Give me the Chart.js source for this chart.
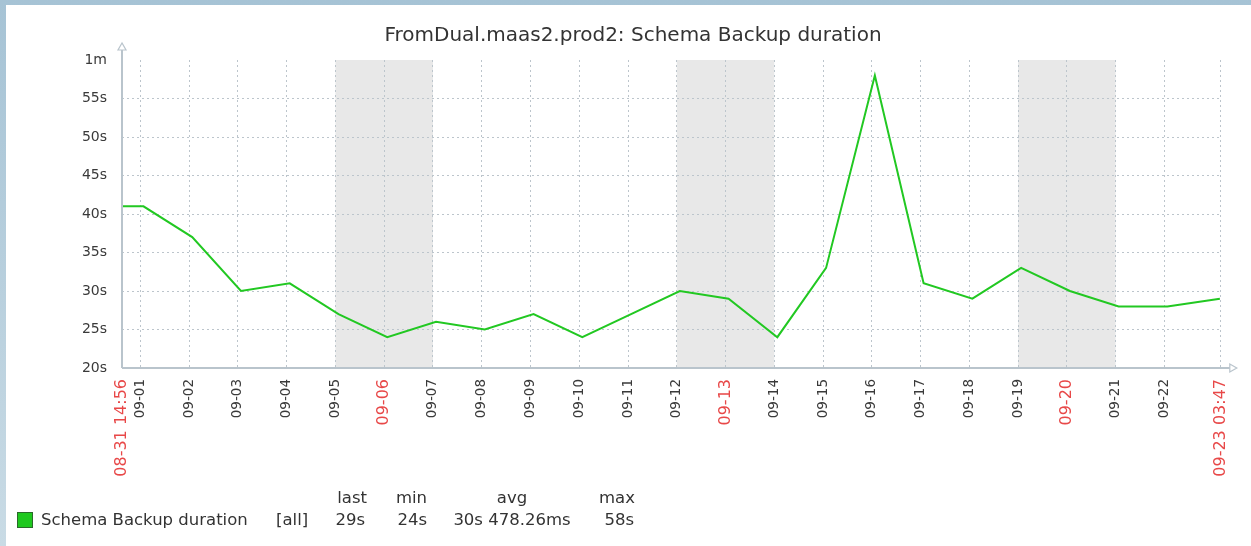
<!DOCTYPE html>
<html>
<head>
<meta charset="utf-8">
<script src="https://cdn.jsdelivr.net/npm/chart.js@4.4.0/dist/chart.umd.min.js"></script>
<style>
  html, body { margin: 0; padding: 0; }
  body {
    width: 1251px; height: 546px; overflow: hidden; position: relative;
    background: linear-gradient(180deg, #a6c3d5, #c9dbe5);
    font-family: "DejaVu Sans", sans-serif; color: #333;
  }
  #panel { position: absolute; left: 6px; top: 5px; right: 0; bottom: 0; background: #fff; }
  #chart { position: absolute; left: 0; top: 0; }
  .title { position: absolute; left: 0; top: 22px; width: 1266px; text-align: center; font-size: 20px; color: #333; }
  .lg { position: absolute; font-size: 16.5px; color: #333; white-space: nowrap; line-height: 20px; }
  .r { width: 120px; text-align: right; }
  .c { width: 160px; text-align: center; }
  .sw { position: absolute; left: 17px; top: 512px; width: 14px; height: 14px; background: #1fc81f; border: 1px solid #2a6a2a; }
</style>
</head>
<body>
<div id="panel"></div>
<canvas id="chart" width="1251" height="546"></canvas>
<div class="title">FromDual.maas2.prod2: Schema Backup duration</div>
<div class="sw"></div>
<div class="lg" style="left:41px;top:510px">Schema Backup duration</div>
<div class="lg" style="left:276px;top:510px">[all]</div>
<div class="lg r" style="left:247px;top:488px">last</div>
<div class="lg r" style="left:307px;top:488px">min</div>
<div class="lg c" style="left:432px;top:488px">avg</div>
<div class="lg r" style="left:515px;top:488px">max</div>
<div class="lg r" style="left:245px;top:510px">29s</div>
<div class="lg r" style="left:307px;top:510px">24s</div>
<div class="lg c" style="left:432px;top:510px">30s 478.26ms</div>
<div class="lg r" style="left:514px;top:510px">58s</div>
<script>
  // sample times ("MM-DD hh:mm") and backup duration in seconds
  const sampleTimes = [
    "08-31 01:30", "09-01 01:30", "09-02 01:30", "09-03 01:30", "09-04 01:30",
    "09-05 01:30", "09-06 01:30", "09-07 01:30", "09-08 01:30", "09-09 01:30",
    "09-10 01:30", "09-11 01:30", "09-12 01:30", "09-13 01:30", "09-14 01:30",
    "09-15 01:30", "09-16 01:30", "09-17 01:30", "09-18 01:30", "09-19 01:30",
    "09-20 01:30", "09-21 01:30", "09-22 01:30", "09-23 03:20"
  ];
  const durations = [41, 41, 37, 30, 31, 27, 24, 26, 25, 27, 24, 27, 30, 29, 24, 33, 58, 31, 29, 33, 30, 28, 28, 29];

  const rangeStart = "08-31 14:56";
  const rangeEnd = "09-23 03:47";
  const xTickLabels = [
    "08-31 14:56", "09-01", "09-02", "09-03", "09-04", "09-05", "09-06", "09-07",
    "09-08", "09-09", "09-10", "09-11", "09-12", "09-13", "09-14", "09-15", "09-16",
    "09-17", "09-18", "09-19", "09-20", "09-21", "09-22", "09-23 03:47"
  ];
  const redTickLabels = ["08-31 14:56", "09-06", "09-13", "09-20", "09-23 03:47"];
  const weekendStarts = ["09-05", "09-12", "09-19"];
  const weekendDays = 2;

  const yTickValues = [20, 25, 30, 35, 40, 45, 50, 55, 60];
  const yTickLabels = ["20s", "25s", "30s", "35s", "40s", "45s", "50s", "55s", "1m"];

  // hours since 08-31 00:00
  function toHours(s) {
    const [md, hm] = s.split(" ");
    const [mo, d] = md.split("-").map(Number);
    const [h, m] = (hm || "00:00").split(":").map(Number);
    return (Date.UTC(2020, mo - 1, d, h, m) - Date.UTC(2020, 7, 31)) / 3600000;
  }

  const GRID = "#bcc5cc";
  const AXIS = "#b9c4cc";
  const isRed = (i) => redTickLabels.includes(xTickLabels[i]);

  const shading = {
    id: "shading",
    beforeDraw(chart) {
      const { ctx, chartArea: a, scales: { x } } = chart;
      ctx.save();
      ctx.fillStyle = "#e8e8e8";
      weekendStarts.forEach((d) => {
        const h = toHours(d);
        const x0 = x.getPixelForValue(h);
        const x1 = x.getPixelForValue(h + weekendDays * 24);
        ctx.fillRect(x0, a.top, x1 - x0, a.bottom - a.top);
      });
      ctx.restore();
    },
  };

  const axes = {
    id: "axes",
    afterDraw(chart) {
      const { ctx, chartArea: a } = chart;
      ctx.save();
      ctx.strokeStyle = AXIS;
      ctx.lineWidth = 2;
      ctx.beginPath();
      ctx.moveTo(a.left, a.bottom);
      ctx.lineTo(a.left, a.top - 10);
      ctx.moveTo(a.left, a.bottom);
      ctx.lineTo(a.right + 9, a.bottom);
      ctx.stroke();
      ctx.lineWidth = 1.2;
      ctx.fillStyle = "#fff";
      // y arrow
      ctx.beginPath();
      ctx.moveTo(a.left, a.top - 17);
      ctx.lineTo(a.left - 4, a.top - 10);
      ctx.lineTo(a.left + 4, a.top - 10);
      ctx.closePath();
      ctx.fill(); ctx.stroke();
      // x arrow
      ctx.beginPath();
      ctx.moveTo(a.right + 16, a.bottom);
      ctx.lineTo(a.right + 9, a.bottom - 4);
      ctx.lineTo(a.right + 9, a.bottom + 4);
      ctx.closePath();
      ctx.fill(); ctx.stroke();
      ctx.restore();
    },
  };

  new Chart(document.getElementById("chart"), {
    type: "line",
    data: {
      datasets: [{
        data: sampleTimes.map((t, i) => ({ x: toHours(t), y: durations[i] })),
        borderColor: "#22c822",
        borderWidth: 2,
        pointRadius: 0,
        tension: 0,
      }],
    },
    options: {
      responsive: false,
      animation: false,
      devicePixelRatio: 1,
      layout: { padding: { left: 0, right: 29, top: 60, bottom: 0 } },
      plugins: { legend: { display: false }, tooltip: { enabled: false } },
      scales: {
        x: {
          type: "linear",
          min: toHours(rangeStart),
          max: toHours(rangeEnd),
          afterFit: (s) => { s.height = 178; },
          afterBuildTicks: (s) => { s.ticks = xTickLabels.map((l) => ({ value: toHours(l) })); },
          border: { display: false, dash: [2, 3] },
          grid: { color: GRID, lineWidth: 1, drawTicks: false },
          ticks: {
            autoSkip: false,
            maxRotation: 90,
            minRotation: 90,
            padding: 11,
            font: (c) => ({ family: "DejaVu Sans", size: isRed(c.index) ? 16 : 13.5 }),
            color: (c) => (isRed(c.index) ? "#e84848" : "#3a3a3a"),
            callback: (v, i) => xTickLabels[i],
          },
        },
        y: {
          min: 20,
          max: 60,
          afterFit: (s) => { s.width = 122; },
          afterBuildTicks: (s) => { s.ticks = yTickValues.map((v) => ({ value: v })); },
          border: { display: false, dash: [2, 3] },
          grid: { color: (c) => (c.tick && c.tick.value === 60 ? "rgba(0,0,0,0)" : GRID), lineWidth: 1, drawTicks: false },
          ticks: {
            padding: 15,
            font: { family: "DejaVu Sans", size: 14 },
            color: "#3a3a3a",
            callback: (v, i) => yTickLabels[i],
          },
        },
      },
    },
    plugins: [shading, axes],
  });
</script>
</body>
</html>
